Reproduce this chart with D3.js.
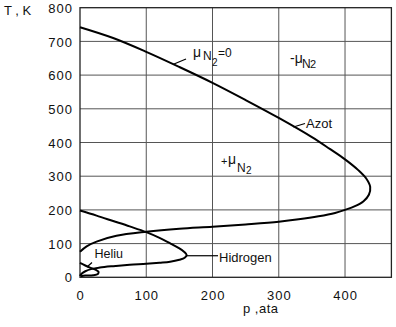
<!DOCTYPE html>
<html><head><meta charset="utf-8">
<script src="https://cdn.jsdelivr.net/npm/d3@7"></script>
<style>
html,body{margin:0;padding:0;background:#fff;}
text{font-family:"Liberation Sans",Arial,sans-serif;fill:#111;}
</style></head>
<body><svg id="c" width="396" height="327"></svg>
<script>
// Data (pressure p in ata, temperature T in K)
const xTicks = [0, 100, 200, 300, 400];
const yTicks = [0, 100, 200, 300, 400, 500, 600, 700, 800];
const nitrogenP = [0, 50, 100, 150, 200, 250, 300, 350, 377, 400, 420, 432, 438, 436, 428, 415, 400, 385, 360, 330, 300, 250, 200, 150, 100, 55, 25, 10, 0];
const nitrogenT = [742, 710, 669, 624, 577, 526, 473, 416, 381, 350, 318, 293, 268, 245, 226, 211, 200, 191, 181, 172, 165, 157, 150, 144, 135, 123, 106, 92, 76];
const hydrogenP = [0, 25, 50, 75, 100, 120, 136, 148, 157, 161, 158, 150, 136, 120, 100, 75, 50, 30, 18, 8, 2, 0];
const hydrogenT = [198, 183, 167, 151, 134, 117, 101, 88, 76, 66, 58, 52, 46, 43, 40, 37, 33, 29, 25, 18, 10, 4];
const heliumP = [0, 8, 16, 24, 28, 27, 20, 8, 1];
const heliumT = [43, 35, 28, 22, 16, 10, 6, 5, 3];

const svg = d3.select("#c");
const x = d3.scaleLinear().domain([0, 470]).range([80, 391.4]);
const y = d3.scaleLinear().domain([0, 800]).range([277.3, 7.7]);

// grid
const g = svg.append("g");
g.selectAll(".gx").data(xTicks.filter(d => d > 0)).enter().append("line")
  .attr("x1", d => x(d)).attr("x2", d => x(d)).attr("y1", y(0)).attr("y2", y(800))
  .attr("stroke", "#555").attr("stroke-width", 1);
g.selectAll(".gy").data(yTicks.filter(d => d > 0 && d < 800)).enter().append("line")
  .attr("y1", d => y(d)).attr("y2", d => y(d)).attr("x1", x(0)).attr("x2", x(470))
  .attr("stroke", "#555").attr("stroke-width", 1);
g.append("rect").attr("x", x(0)).attr("y", y(800)).attr("width", x(470) - x(0)).attr("height", y(0) - y(800))
  .attr("fill", "none").attr("stroke", "#222").attr("stroke-width", 1.3);

// axes labels via d3 axes
const ax = svg.append("g").attr("transform", `translate(0,${y(0)})`)
  .call(d3.axisBottom(x).tickValues(xTicks).tickSize(0).tickPadding(0).tickFormat(d3.format("d")));
ax.select(".domain").remove();
ax.selectAll("text").attr("y", 23).attr("dy", 0).attr("font-size", 13).attr("letter-spacing", 1)
  .style("font-family", "Liberation Sans, Arial, sans-serif").attr("fill", "#111");
const ay = svg.append("g").attr("transform", `translate(73,0)`)
  .call(d3.axisLeft(y).tickValues(yTicks).tickSize(0).tickPadding(0).tickFormat(d3.format("d")));
ay.select(".domain").remove();
ay.selectAll("text").attr("x", 0).attr("dy", "0.36em").attr("font-size", 13).attr("letter-spacing", 1)
  .style("font-family", "Liberation Sans, Arial, sans-serif").attr("fill", "#111");

// axis titles
svg.append("text").attr("x", 4).attr("y", 15).attr("font-size", 13).text("T , K");
svg.append("text").attr("x", 243).attr("y", 313).attr("font-size", 13).attr("letter-spacing", 0.5).text("p ,ata");

// curves
const line = d3.line().x(d => x(d[0])).y(d => y(d[1])).curve(d3.curveCatmullRom.alpha(0.5));
function draw(P, T) {
  svg.append("path").datum(P.map((p, i) => [p, T[i]])).attr("d", line)
    .attr("fill", "none").attr("stroke", "#000").attr("stroke-width", 2).attr("stroke-linejoin", "round");
}
draw(nitrogenP, nitrogenT);
draw(hydrogenP, hydrogenT);
draw(heliumP, heliumT);

// leaders
function lead(x1, y1, x2, y2) {
  svg.append("line").attr("x1", x1).attr("y1", y1).attr("x2", x2).attr("y2", y2)
    .attr("stroke", "#000").attr("stroke-width", 1.2);
}
lead(x(141), y(632), 186, 59);
lead(x(322), y(446), 305, 123.5);
lead(x(161), y(64), 218, y(64));
lead(87, 267, 92, 262.5);

// labels
function t(xp, yp, s, size) {
  return svg.append("text").attr("x", xp).attr("y", yp).attr("font-size", size || 13).text(s);
}
t(193, 57, "μ", 14);
t(203, 60, "N", 12);
t(212, 66, "2", 10);
t(218, 57, "=0", 12);
t(290, 63, "-μ", 14);
t(302, 68, "N", 12);
t(310, 68, "2", 11);
t(306, 127.5, "Azot", 13);
t(221, 165, "+", 11);
t(228, 164, "μ", 14);
t(237, 172, "N", 12);
t(246, 174, "2", 10);
t(94.5, 258.3, "Heliu", 12.5);
t(219, 262, "Hidrogen", 13);
</script></body></html>
